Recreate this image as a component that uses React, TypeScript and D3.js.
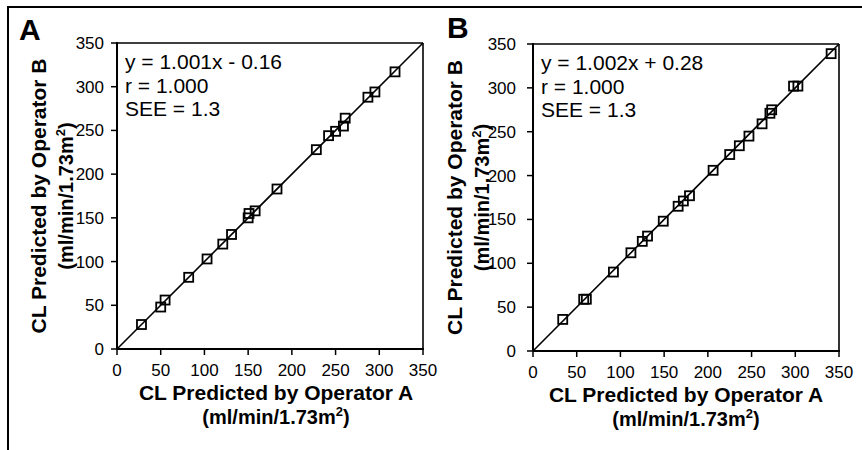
import React from 'react';
import * as d3 from 'd3';

// ---- data ----
const tickValues = [0, 50, 100, 150, 200, 250, 300, 350];

const panelAX = [28, 50, 55, 82, 103, 121, 131, 150, 151, 158, 183, 228, 242, 250, 259, 261, 287, 295, 318];
const panelAY = [28, 48, 56, 82, 103, 120, 131, 150, 155, 158, 183, 228, 244, 249, 255, 264, 288, 294, 317];

const panelBX = [34, 58, 61, 92, 112, 125, 131, 149, 166, 172, 179, 206, 225, 236, 247, 262, 271, 273, 298, 303, 341];
const panelBY = [36, 59, 59, 90, 112, 125, 131, 148, 165, 171, 177, 206, 224, 234, 245, 259, 271, 275, 302, 302, 339];

const statsA = ['y = 1.001x - 0.16', 'r = 1.000', 'SEE = 1.3'];
const statsB = ['y = 1.002x + 0.28', 'r = 1.000', 'SEE = 1.3'];

const xTitle = 'CL Predicted by Operator A';
const yTitle = 'CL Predicted by Operator B';
const unitText = '(ml/min/1.73m';
const unitSup = '2';
const unitEnd = ')';

const FONT = '"Liberation Sans", Arial, Helvetica, sans-serif';

type PanelProps = {
  letter: string;
  xs: number[];
  ys: number[];
  stats: string[];
  left: number;
  top: number;
  width: number;
  height: number;
  letterX: number;
  letterY: number;
  yLabelGap: number;
  xTitleShift: number;
};

function Units({ x, y, transform }: { x: number; y: number; transform?: string }) {
  return (
    <text x={x} y={y} transform={transform} textAnchor="middle" fontFamily={FONT} fontWeight="bold" fontSize={20}>
      {unitText}
      <tspan fontSize={13} dy={-8}>{unitSup}</tspan>
      <tspan dy={8}>{unitEnd}</tspan>
    </text>
  );
}

function Panel(p: PanelProps) {
  const x = d3.scaleLinear().domain([0, 350]).range([p.left, p.left + p.width]);
  const y = d3.scaleLinear().domain([0, 350]).range([p.top + p.height, p.top]);
  const bottom = p.top + p.height;
  const right = p.left + p.width;
  const cx = p.left + p.width / 2;
  const cy = p.top + p.height / 2;
  const sq = 9;
  return (
    <g>
      <text x={p.letterX} y={p.letterY} fontFamily={FONT} fontWeight="bold" fontSize={30}>{p.letter}</text>
      {/* frame */}
      <line x1={p.left} y1={p.top} x2={right} y2={p.top} stroke="#000" strokeWidth={1.6} />
      <line x1={right} y1={p.top} x2={right} y2={bottom} stroke="#000" strokeWidth={1.6} />
      <line x1={p.left} y1={p.top - 1} x2={p.left} y2={bottom} stroke="#000" strokeWidth={2} />
      <line x1={p.left} y1={bottom} x2={right + 1} y2={bottom} stroke="#000" strokeWidth={2} />
      {/* ticks */}
      {tickValues.map((t) => (
        <g key={'x' + t}>
          <line x1={x(t)} x2={x(t)} y1={bottom} y2={bottom + 6} stroke="#000" strokeWidth={1.5} />
          <text x={x(t)} y={bottom + 27} textAnchor="middle" fontFamily={FONT} fontSize={17}>{t}</text>
        </g>
      ))}
      {tickValues.map((t) => (
        <g key={'y' + t}>
          <line x1={p.left - 6} x2={p.left} y1={y(t)} y2={y(t)} stroke="#000" strokeWidth={1.5} />
          <text x={p.left - p.yLabelGap} y={y(t) + 6} textAnchor="end" fontFamily={FONT} fontSize={17}>{t}</text>
        </g>
      ))}
      {/* identity line */}
      <line x1={x(0)} y1={y(0)} x2={x(350)} y2={y(350)} stroke="#000" strokeWidth={1.6} />
      {/* points */}
      {p.xs.map((v, i) => (
        <rect key={i} x={x(v) - sq / 2} y={y(p.ys[i]) - sq / 2} width={sq} height={sq} fill="none" stroke="#000" strokeWidth={1.8} />
      ))}
      {/* stats */}
      {p.stats.map((s, i) => (
        <text key={s} x={p.left + 8} y={p.top + 26 + i * 23.5} fontFamily={FONT} fontSize={21}>{s}</text>
      ))}
      {/* x title */}
      <text x={cx + p.xTitleShift} y={bottom + 51} textAnchor="middle" fontFamily={FONT} fontWeight="bold" fontSize={21}>{xTitle}</text>
      <Units x={cx + p.xTitleShift} y={bottom + 75} />
      {/* y title */}
      <text x={0} y={0} transform={`translate(${p.left - 71},${cy}) rotate(-90)`} textAnchor="middle" fontFamily={FONT} fontWeight="bold" fontSize={21}>{yTitle}</text>
      <Units x={0} y={0} transform={`translate(${p.left - 44},${cy}) rotate(-90)`} />
    </g>
  );
}

export default function App() {
  return (
    <svg width={862} height={450} style={{ position: 'absolute', left: 0, top: 0, display: 'block', background: '#fff' }}>
      <rect x={0} y={0} width={862} height={450} fill="#fff" />
      <line x1={8} y1={7} x2={862} y2={7} stroke="#000" strokeWidth={2} />
      <line x1={8} y1={6} x2={8} y2={450} stroke="#000" strokeWidth={2} />
      <Panel letter="A" xs={panelAX} ys={panelAY} stats={statsA} left={117} top={43} width={306} height={306} letterX={19} letterY={40} yLabelGap={13} xTitleShift={6} />
      <Panel letter="B" xs={panelBX} ys={panelBY} stats={statsB} left={533} top={44} width={306} height={307} letterX={447} letterY={38} yLabelGap={17} xTitleShift={0} />
    </svg>
  );
}
